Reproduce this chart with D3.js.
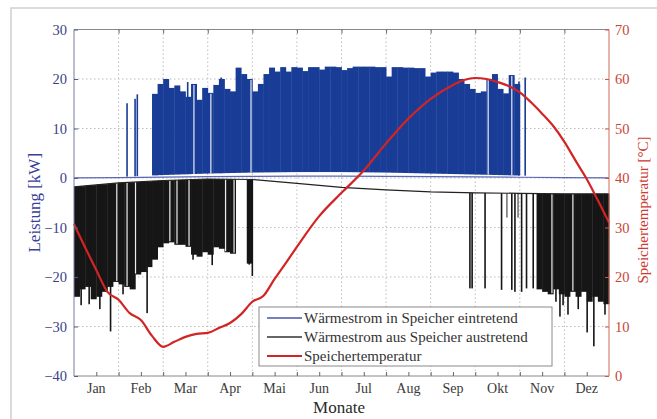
<!DOCTYPE html>
<html>
<head>
<meta charset="utf-8">
<script src="https://cdn.jsdelivr.net/npm/d3@7"></script>
<style>
  body { margin: 0; background: #fff; }
  svg text { font-family: 'Liberation Serif', 'DejaVu Serif', serif !important; }
</style>
</head>
<body>
<script>
// monate, 8 werte pro monat fuer die leistung
var months = ["Jan", "Feb", "Mar", "Apr", "Mai", "Jun", "Jul", "Aug", "Sep", "Okt", "Nov", "Dez"];
var leftTicks = [-40, -30, -20, -10, 0, 10, 20, 30];
var rightTicks = [0, 10, 20, 30, 40, 50, 60, 70];

// grundlinien am monatsanfang (kW)
var blueBase = [0.1, 0.2, 0.6, 0.9, 1.1, 1.2, 1.2, 1.1, 0.9, 0.7, 0.5, 0.3, 0.1];
var blackBase = [-1.8, -1.0, -0.5, -0.2, -0.3, -1.1, -1.9, -2.4, -2.8, -3.0, -3.1, -3.2, -3.2];

// eintretend, obere huelle (0 = kein zufluss)
var blueTop = [
  0, 0, 0, 0, 0, 0, 0, 0,
  0, 0, 0, 0, 0, 0, 17, 19,
  20, 18.2, 18.7, 17.5, 16.4, 19, 15.8, 18.2,
  17.2, 18.8, 20, 18, 17.5, 22.3, 21, 20,
  17.5, 19, 21, 22.3, 21.5, 22.4, 21.5, 22.4,
  22.3, 21.6, 22.4, 22.4, 21.9, 22.5, 22.5, 22.4,
  21.8, 22.2, 22.5, 22.5, 22.5, 22.5, 22.4, 22.4,
  20.5, 22.4, 22.4, 22.3, 22.3, 22.2, 22.2, 20.5,
  21.3, 21.5, 21.5, 21.5, 21.3, 20.0, 19.0, 18.0,
  17.2, 17.5, 20, 21, 18, 17.1, 20.8, 19,
  0, 0, 0, 0, 0, 0, 0, 0,
  0, 0, 0, 0, 0, 0, 0, 0
];
var blueSpikes = [[1.19, 15.1], [1.37, 16.0], [1.42, 16.9], [2.55, 19.4], [3.3, 20.3], [9.98, 19.5], [10.12, 20.3]];
var blueGaps = [2.69, 3.07, 3.97, 9.29, 9.82];

// austretend, untere huelle (0 = kein abfluss)
var blackBot = [
  -24, -22.5, -22, -24.5, -24, -23, -22, -21,
  -21.5, -22, -22.5, -19.5, -19, -18, -16.5, -14,
  -13.2, -13, -13.5, -13.5, -13.9, -15.5, -15.9, -15,
  -15.5, -14, -14.3, -15, -15.3, 0, 0, -17.3,
  0, 0, 0, 0, 0, 0, 0, 0,
  0, 0, 0, 0, 0, 0, 0, 0,
  0, 0, 0, 0, 0, 0, 0, 0,
  0, 0, 0, 0, 0, 0, 0, 0,
  0, 0, 0, 0, 0, 0, 0, 0,
  0, 0, 0, 0, 0, 0, 0, 0,
  0, 0, 0, -22.5, -23, -23.5, -22.5, -23.5,
  -24, -23, -24, -23, -25, -24, -25, -25.5
];
var blackSpikes = [[0.16, -25.7], [0.34, -25.5], [0.58, -26.5], [0.82, -31], [1.10, -23.5], [1.64, -27.3],
  [2.67, -16.5], [3.10, -17.6], [3.93, -17.5], [4.00, -19.8],
  [8.88, -22.3], [8.93, -22.3], [9.22, -22.3], [9.59, -22.6], [9.71, -8], [9.82, -22.6], [9.89, -23],
  [9.96, -8], [10.04, -23], [10.15, -22.3], [10.30, -22.3], [10.81, -25], [10.90, -28], [10.97, -25.7],
  [11.08, -27.6], [11.31, -26.5], [11.51, -31.2], [11.66, -34], [11.91, -27.6]];
var blackGaps = [0.96, 1.19, 1.38, 2.15, 2.31, 2.58, 3.40, 3.59, 10.72, 11.19];

// speichertemperatur (°C), monat / wert
var tempMonth = [0, 0.5, 0.75, 1, 1.25, 1.5, 1.75, 2, 2.25, 2.5, 2.75, 3, 3.25, 3.5, 3.75, 4, 4.25, 4.5, 4.75,
  5, 5.5, 6, 6.5, 7, 7.5, 8, 8.5, 8.75, 9, 9.25, 9.5, 9.75, 10, 10.25, 10.5, 10.75, 11, 11.25, 11.5, 11.75, 12];
var tempValue = [30.7, 21.4, 17.0, 15.4, 12.7, 11.3, 8.1, 5.9, 6.9, 7.9, 8.5, 8.7, 9.7, 10.7, 12.5, 15.0, 16.2, 19.6, 22.8,
  26.1, 32.3, 37, 41.5, 47, 52, 56, 58.8, 59.8, 60.2, 60.0, 59.4, 58.6, 57.3, 55.3, 53, 50.5, 47.3, 43.5, 39.8, 35.5, 31];

var W = 657, H = 419;
var svg = d3.select("body").append("svg")
  .attr("width", W)
  .attr("height", H);

var x = d3.scaleLinear().domain([0, 12]).range([74, 609]);
var yL = d3.scaleLinear().domain([-40, 30]).range([376, 29.5]);
var yR = d3.scaleLinear().domain([0, 70]).range([376, 29.5]);
var bBase = d3.scaleLinear().domain(d3.range(13)).range(blueBase);
var kBase = d3.scaleLinear().domain(d3.range(13)).range(blackBase);

// rahmen
svg.append("rect").attr("x", 11).attr("y", 8).attr("width", 700).attr("height", 500)
  .style("fill", "none").style("stroke", "#cfcfcf").style("stroke-width", 1.5);

// gitter
var grid = svg.append("g").style("stroke", "#bdbdbd").style("stroke-dasharray", "1.5,2.5").style("stroke-width", 1);
grid.selectAll("line.h").data(leftTicks.slice(1, -1)).enter().append("line")
  .attr("x1", x(0)).attr("x2", x(12))
  .attr("y1", function(d) { return yL(d); }).attr("y2", function(d) { return yL(d); });
grid.selectAll("line.v").data(d3.range(1, 12)).enter().append("line")
  .attr("y1", yL(30)).attr("y2", yL(-40))
  .attr("x1", function(d) { return x(d); }).attr("x2", function(d) { return x(d); });

var step = x(1 / 8) - x(0);
function slot(m) { return Math.min(95, Math.floor(m * 8)); }

// eintretend
var blueG = svg.append("g").style("fill", "#193c96");
blueTop.forEach(function(d, i) {
  if (d <= 0) return;
  var m = i / 8;
  blueG.append("rect")
    .attr("x", x(m)).attr("width", step + 0.4)
    .attr("y", yL(d)).attr("height", yL(bBase(m + 1 / 16)) - yL(d));
});
blueG.selectAll("rect.s").data(blueSpikes).enter().append("rect")
  .attr("x", function(d) { return x(d[0]) - 0.8; }).attr("width", 1.6)
  .attr("y", function(d) { return yL(d[1]); })
  .attr("height", function(d) { return yL(bBase(d[0])) - yL(d[1]); });
svg.append("g").selectAll("line").data(blueGaps).enter().append("line")
  .attr("x1", function(d) { return x(d); }).attr("x2", function(d) { return x(d); })
  .attr("y1", function(d) { return yL(blueTop[slot(d)]) + 1; })
  .attr("y2", function(d) { return yL(bBase(d)); })
  .style("stroke", "#e8ecf8").style("stroke-width", 1.2);

// austretend
var blackG = svg.append("g").style("fill", "#161616");
blackBot.forEach(function(d, i) {
  if (d >= 0) return;
  var m = i / 8;
  var top = yL(kBase(m + 1 / 16));
  blackG.append("rect")
    .attr("x", x(m)).attr("width", step + 0.4)
    .attr("y", top).attr("height", yL(d) - top);
});
blackG.selectAll("rect.s").data(blackSpikes).enter().append("rect")
  .attr("x", function(d) { return x(d[0]) - 0.8; }).attr("width", 1.6)
  .attr("y", function(d) { return yL(kBase(d[0])); })
  .attr("height", function(d) { return yL(d[1]) - yL(kBase(d[0])); })
  .style("fill", function(d) { return d[1] > -9 ? "#777" : "#161616"; });
svg.append("g").selectAll("line").data(blackGaps).enter().append("line")
  .attr("x1", function(d) { return x(d); }).attr("x2", function(d) { return x(d); })
  .attr("y1", function(d) { return yL(kBase(d)); })
  .attr("y2", function(d) { return yL(blackBot[slot(d)]) - 1; })
  .style("stroke", "#eeeeee").style("stroke-width", 1.2);

// grundlinien
var ms = d3.range(13);
svg.append("path").datum(ms)
  .attr("d", d3.line().x(function(d) { return x(d); }).y(function(d) { return yL(bBase(d) * 0.3); }))
  .style("fill", "none").style("stroke", "#5a66b4").style("stroke-width", 1.2);
svg.append("path").datum(ms)
  .attr("d", d3.line().x(function(d) { return x(d); }).y(function(d) { return yL(kBase(d)); }))
  .style("fill", "none").style("stroke", "#222").style("stroke-width", 1.2);

// temperatur
svg.append("path").datum(tempMonth)
  .attr("d", d3.line().curve(d3.curveMonotoneX)
    .x(function(d) { return x(d); })
    .y(function(d, i) { return yR(tempValue[i]); }))
  .style("fill", "none").style("stroke", "#d32424").style("stroke-width", 2.2);

// achsen
var boxG = svg.append("g").style("fill", "none").style("stroke-width", 1);
boxG.append("line").attr("x1", x(0)).attr("x2", x(12)).attr("y1", yL(30)).attr("y2", yL(30)).style("stroke", "#888");
boxG.append("line").attr("x1", x(0)).attr("x2", x(12)).attr("y1", yL(-40)).attr("y2", yL(-40)).style("stroke", "#888");
boxG.append("line").attr("x1", x(0)).attr("x2", x(0)).attr("y1", yL(30)).attr("y2", yL(-40)).style("stroke", "#7a7a9a");
boxG.append("line").attr("x1", x(12)).attr("x2", x(12)).attr("y1", yL(30)).attr("y2", yL(-40)).style("stroke", "#d06a5a");

var axB = d3.axisBottom(x).tickValues(d3.range(0.5, 12, 0.5)).tickSize(-4).tickFormat("");
svg.append("g").attr("transform", "translate(0," + yL(-40) + ")").call(axB)
  .call(function(g) { g.select(".domain").remove(); g.selectAll("line").style("stroke", "#666"); });
var axT = d3.axisTop(x).tickValues(d3.range(1, 12)).tickSize(-4).tickFormat("");
svg.append("g").attr("transform", "translate(0," + yL(30) + ")").call(axT)
  .call(function(g) { g.select(".domain").remove(); g.selectAll("line").style("stroke", "#666"); });

svg.append("g").selectAll("text").data(months).enter().append("text")
  .attr("x", function(d, i) { return x(i + 0.5); }).attr("y", 393)
  .attr("text-anchor", "middle").style("font-size", "14px").style("fill", "#3a3a3a")
  .text(function(d) { return d; });

var axL = d3.axisLeft(yL).tickValues(leftTicks).tickSize(-4).tickPadding(7)
  .tickFormat(function(d) { return d < 0 ? "\u2212" + Math.abs(d) : d; });
svg.append("g").attr("transform", "translate(" + x(0) + ",0)").call(axL)
  .call(function(g) {
    g.select(".domain").remove();
    g.selectAll("line").style("stroke", "#555a8a");
    g.selectAll("text").style("font-size", "14.5px").style("fill", "#3c3f86");
  });
var axR = d3.axisRight(yR).tickValues(rightTicks).tickSize(-4).tickPadding(6);
svg.append("g").attr("transform", "translate(" + x(12) + ",0)").call(axR)
  .call(function(g) {
    g.select(".domain").remove();
    g.selectAll("line").style("stroke", "#c8584a");
    g.selectAll("text").style("font-size", "14.5px").style("fill", "#c8453a");
  });

svg.append("text").attr("transform", "translate(40," + yL(-5) + ") rotate(-90)")
  .attr("text-anchor", "middle").style("font-size", "17px").style("fill", "#3a3f9a")
  .text("Leistung [kW]");
svg.append("text").attr("transform", "translate(648,210) rotate(-90)")
  .attr("text-anchor", "middle").style("font-size", "15px").style("fill", "#cc3a30")
  .text("Speichertemperatur [°C]");
svg.append("text").attr("x", 339).attr("y", 413).attr("text-anchor", "middle")
  .style("font-size", "17px").style("fill", "#2a2a2a").text("Monate");

// legende
var legend = [
  { name: "Wärmestrom in Speicher eintretend", color: "#4a56a8", w: 1.3 },
  { name: "Wärmestrom aus Speicher austretend", color: "#333", w: 1.3 },
  { name: "Speichertemperatur", color: "#d32424", w: 2.2 }
];
var lg = svg.append("g").attr("transform", "translate(259,307)");
lg.append("rect").attr("width", 293).attr("height", 59)
  .style("fill", "#fff").style("stroke", "#8a8a8a").style("stroke-width", 1);
var row = lg.selectAll("g").data(legend).enter().append("g")
  .attr("transform", function(d, i) { return "translate(0," + (11 + i * 19) + ")"; });
row.append("line").attr("x1", 8).attr("x2", 43)
  .style("stroke", function(d) { return d.color; }).style("stroke-width", function(d) { return d.w; });
row.append("text").attr("x", 45).attr("y", 5)
  .style("font-size", "15px").style("fill", "#333").text(function(d) { return d.name; });
</script>
</body>
</html>
